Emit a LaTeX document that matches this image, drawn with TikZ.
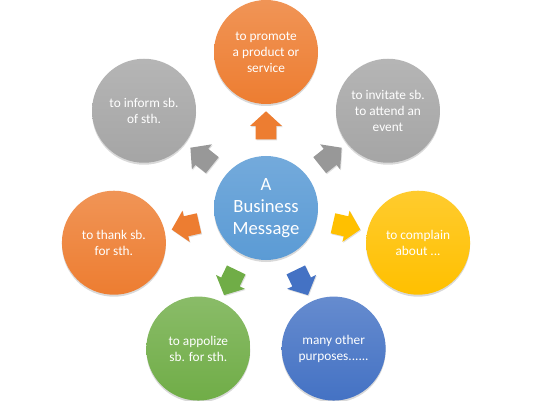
\documentclass[tikz,border=0pt]{standalone}
\usepackage{fontspec}
\setmainfont{Carlito}
\usetikzlibrary{shapes.arrows,shadows,calc}
\definecolor{cOrange}{HTML}{ED7D31}
\definecolor{cGray}{HTML}{A5A5A5}
\definecolor{cYellow}{HTML}{FFC000}
\definecolor{cBlue}{HTML}{4472C4}
\definecolor{cGreen}{HTML}{70AD47}
\definecolor{cHub}{HTML}{5B9BD5}
\begin{document}
\begin{tikzpicture}[x=0.75pt,y=0.75pt,
  bubble/.style={circle, minimum size=78pt, inner sep=0pt, text=white, align=center,
    font=\fontsize{10}{12}\selectfont, top color=#1!82!white, bottom color=#1, draw=none,
    drop shadow={shadow xshift=0pt,shadow yshift=-1.5pt,opacity=0.3}},
  hub/.style={circle, minimum size=78pt, inner sep=0pt, text=white, align=center,
    font=\fontsize{14}{16.5}\selectfont, top color=cHub!85!white, bottom color=cHub, draw=none,
    drop shadow={shadow xshift=0pt,shadow yshift=-1.5pt,opacity=0.3}},
  blockarrow/.style 2 args={single arrow, draw=none, fill=#1, minimum height=21pt,
    inner xsep=0pt, inner ysep=7.5pt,
    single arrow head extend=4.3pt, single arrow tip angle=95,
    rotate=#2,
    drop shadow={shadow xshift=0.6pt,shadow yshift=-0.8pt,opacity=0.25}}
]
\useasboundingbox (0,0) rectangle (534,400);
\node[hub] (c) at (266,192) {A\\Business\\Message};
\node[bubble=cOrange] (o1) at ($(c)+(90:156)$) {to promote\\a product or\\service};
\node[bubble=cGray] (o2) at ($(c)+(38.57:156)$) {to invitate sb.\\to attend an\\event};
\node[bubble=cYellow] (o3) at ($(c)+(-12.86:156)$) {to complain\\about ...};
\node[bubble=cBlue] (o4) at ($(c)+(-64.29:156)$) {many other\\purposes......};
\node[bubble=cGreen] (o5) at ($(c)+(-115.71:156)$) {to appolize\\sb. for sth.};
\node[bubble=cOrange] (o6) at ($(c)+(-167.14:156)$) {to thank sb.\\for sth.};
\node[bubble=cGray] (o7) at ($(c)+(141.43:156)$) {to inform sb.\\of sth.};
\node[blockarrow={cOrange}{90}] (a1) at ($(c)!0.5!(o1)$) {};
\node[blockarrow={cGray!92!black}{38.57}] (a2) at ($(c)!0.5!(o2)$) {};
\node[blockarrow={cYellow}{-12.86}] (a3) at ($(c)!0.5!(o3)$) {};
\node[blockarrow={cBlue}{-64.29}] (a4) at ($(c)!0.5!(o4)$) {};
\node[blockarrow={cGreen}{-115.71}] (a5) at ($(c)!0.5!(o5)$) {};
\node[blockarrow={cOrange}{-167.14}] (a6) at ($(c)!0.5!(o6)$) {};
\node[blockarrow={cGray!92!black}{141.43}] (a7) at ($(c)!0.5!(o7)$) {};
\end{tikzpicture}
\end{document}
